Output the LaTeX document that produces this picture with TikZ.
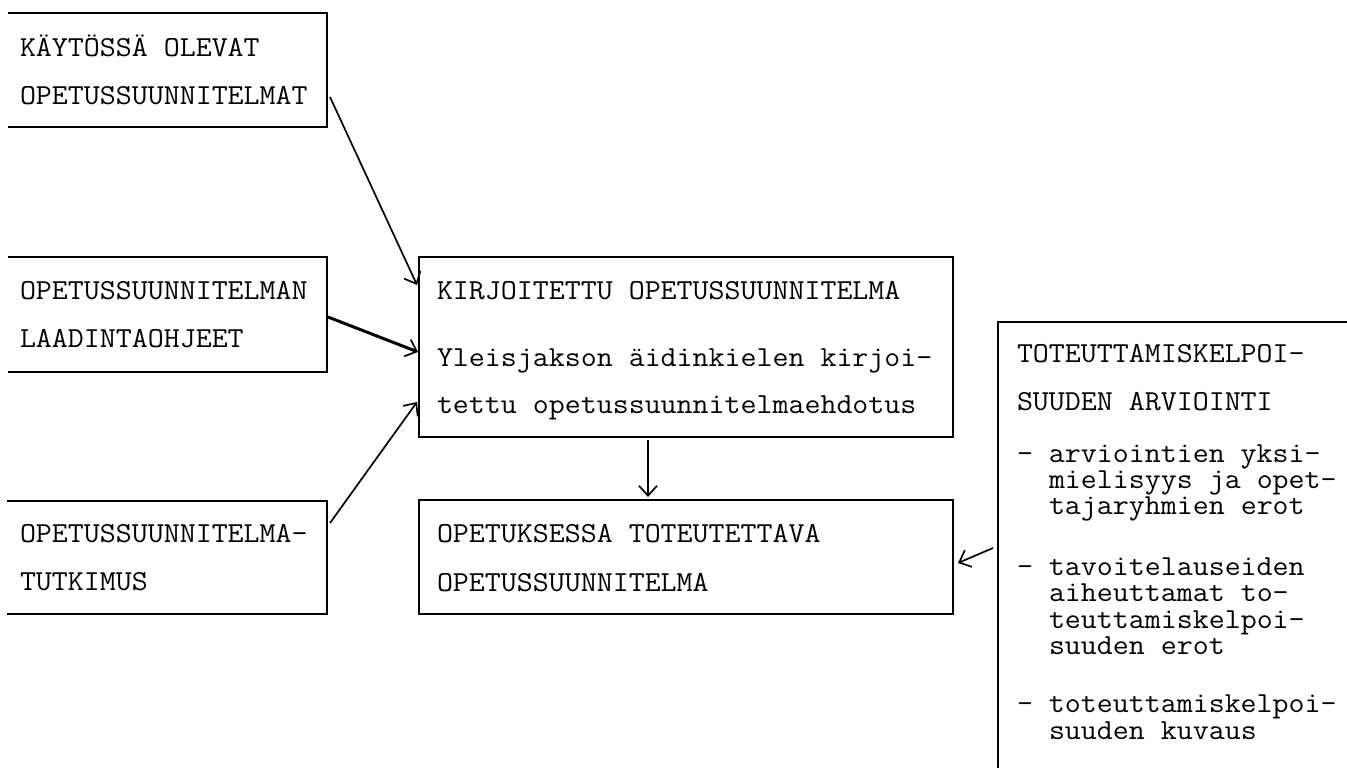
\documentclass[tikz,border=0pt]{standalone}
\usetikzlibrary{arrows.meta}
% typewriter lines: slightly widened monospace
\newcommand{\typed}[1]{\scalebox{1.07}[1]{#1}}
\begin{document}
\begin{tikzpicture}[x=1pt,y=-1pt,
  box/.style={rectangle,draw=none,inner sep=0pt,outer sep=0pt},
  frame/.style={line width=2.4pt,line cap=rect},
  thinframe/.style={line width=1.8pt,line cap=rect},
  txt/.style={anchor=base west,inner sep=0pt,outer sep=0pt,
    text height=18pt,text depth=5pt,
    font=\fontsize{29}{34}\selectfont\ttfamily},
  flow/.style={line width=1.7pt,
    -{Straight Barb[length=10pt,width=18pt,line width=1.7pt]}},
  heavyflow/.style={flow,line width=3pt},
]
\useasboundingbox (0,0) rectangle (1347,768);

% ---- boxes (outlines drawn separately, some sides are open) ----
\node[box,minimum width=318pt,minimum height=114pt] (A) at (168,70) {};
\node[box,minimum width=318pt,minimum height=115pt] (B) at (168,314.5) {};
\node[box,minimum width=319pt,minimum height=113pt] (C) at (167.5,557.5) {};
\node[box,minimum width=534pt,minimum height=180pt] (D) at (686,347) {};
\node[box,minimum width=534pt,minimum height=114pt] (E) at (686,557) {};
\node[box,minimum width=349pt,minimum height=446pt] (F) at (1172.5,545) {};

\draw[frame] (A.north west) -- (A.north east) -- (A.south east) -- (A.south west);
\draw[frame] (B.north west) -- (B.north east) -- (B.south east) -- (B.south west);
\draw[frame] (C.north west) -- (C.north east) -- (C.south east) -- (C.south west);
\draw[frame] (D.north west) rectangle (D.south east);
\draw[frame] (E.north west) rectangle (E.south east);
\draw[thinframe] (F.north east) -- (F.north west) -- (F.south west);

% ---- texts ----
\node[txt] (a1) at (20,57)  {\typed{KÄYTÖSSÄ OLEVAT}};
\node[txt] (a2) at (20,104) {\typed{OPETUSSUUNNITELMAT}};

\node[txt] (b1) at (20,299) {\typed{OPETUSSUUNNITELMAN}};
\node[txt] (b2) at (20,347) {\typed{LAADINTAOHJEET}};

\node[txt] (c1) at (20,542) {\typed{OPETUSSUUNNITELMA-}};
\node[txt] (c2) at (20,590) {\typed{TUTKIMUS}};

\node[txt] (d1) at (437,299) {\typed{KIRJOITETTU OPETUSSUUNNITELMA}};
\node[txt] (d2) at (437,366) {\typed{Yleisjakson äidinkielen kirjoi-}};
\node[txt] (d3) at (437,413) {\typed{tettu opetussuunnitelmaehdotus}};

\node[txt] (e1) at (437,542) {\typed{OPETUKSESSA TOTEUTETTAVA}};
\node[txt] (e2) at (437,591) {\typed{OPETUSSUUNNITELMA}};

\node[txt] (f1) at (1017,362) {\typed{TOTEUTTAMISKELPOI-}};
\node[txt] (f2) at (1017,410) {\typed{SUUDEN ARVIOINTI}};
\node[txt] (f3) at (1017,462) {\typed{- arviointien yksi-}};
\node[txt] (f4) at (1049,488) {\typed{mielisyys ja opet-}};
\node[txt] (f5) at (1049,514) {\typed{tajaryhmien erot}};
\node[txt] (f6) at (1017,575) {\typed{- tavoitelauseiden}};
\node[txt] (f7) at (1049,601) {\typed{aiheuttamat to-}};
\node[txt] (f8) at (1049,628) {\typed{teuttamiskelpoi-}};
\node[txt] (f9) at (1049,654) {\typed{suuden erot}};
\node[txt] (f10) at (1017,712) {\typed{- toteuttamiskelpoi-}};
\node[txt] (f11) at (1049,739) {\typed{suuden kuvaus}};

% ---- connectors ----
\draw[flow] ([shift={(3,-30)}]A.south east) -- ([shift={(-2,28)}]D.north west);
\draw[heavyflow] ([shift={(1,60)}]B.north east) -- ([shift={(-1,95)}]D.north west);
\draw[flow] ([shift={(3,22)}]C.north east) -- ([shift={(-2,145)}]D.north west);
\draw[flow] ([shift={(229,3)}]D.south west) -- ([shift={(229,-3)}]E.north west);
\draw[flow] ([shift={(-5,226)}]F.north west) -- ([shift={(5,63)}]E.north east);
\end{tikzpicture}
\end{document}
